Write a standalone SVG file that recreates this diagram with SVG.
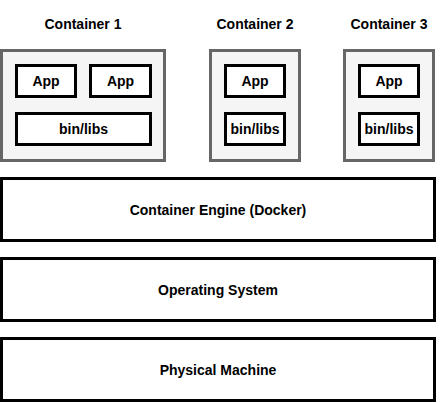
<svg xmlns="http://www.w3.org/2000/svg" width="443" height="403" viewBox="0 0 443 403">
<style>
.cont{fill:#f5f5f5;stroke:#666666;stroke-width:3}
.box{fill:#ffffff;stroke:#000000;stroke-width:3}
text{font-family:"Liberation Sans",Arial,sans-serif;font-weight:bold;font-size:14px;fill:#000;text-anchor:middle;dominant-baseline:central}
</style>
<rect width="443" height="403" fill="#ffffff"/>
<g id="container1">
<text x="83" y="24">Container 1</text>
<rect class="cont" x="1.5" y="50.5" width="163" height="110"/>
<g id="c1-app1"><rect class="box" x="16.5" y="65.5" width="59" height="31"/><text x="46" y="81">App</text></g>
<g id="c1-app2"><rect class="box" x="90.5" y="65.5" width="60" height="31"/><text x="120.5" y="81">App</text></g>
<g id="c1-bin"><rect class="box" x="16.5" y="113.5" width="134" height="31"/><text x="83.5" y="129">bin/libs</text></g>
</g>
<g id="container2">
<text x="255" y="24">Container 2</text>
<rect class="cont" x="210.5" y="50.5" width="89" height="110"/>
<g id="c2-app"><rect class="box" x="225.5" y="65.5" width="59" height="31"/><text x="255" y="81">App</text></g>
<g id="c2-bin"><rect class="box" x="225.5" y="113.5" width="59" height="31"/><text x="255" y="129">bin/libs</text></g>
</g>
<g id="container3">
<text x="389" y="24">Container 3</text>
<rect class="cont" x="344.5" y="50.5" width="89" height="110"/>
<g id="c3-app"><rect class="box" x="359.5" y="65.5" width="59" height="31"/><text x="389" y="81">App</text></g>
<g id="c3-bin"><rect class="box" x="359.5" y="113.5" width="59" height="31"/><text x="389" y="129">bin/libs</text></g>
</g>
<g id="engine"><rect class="box" x="1.5" y="178.5" width="433" height="62"/><text x="218" y="210">Container Engine (Docker)</text></g>
<g id="os"><rect class="box" x="1.5" y="258.5" width="433" height="62"/><text x="218" y="290">Operating System</text></g>
<g id="machine"><rect class="box" x="1.5" y="338.5" width="433" height="62"/><text x="218" y="370">Physical Machine</text></g>
<g id="connectors"></g>
</svg>
